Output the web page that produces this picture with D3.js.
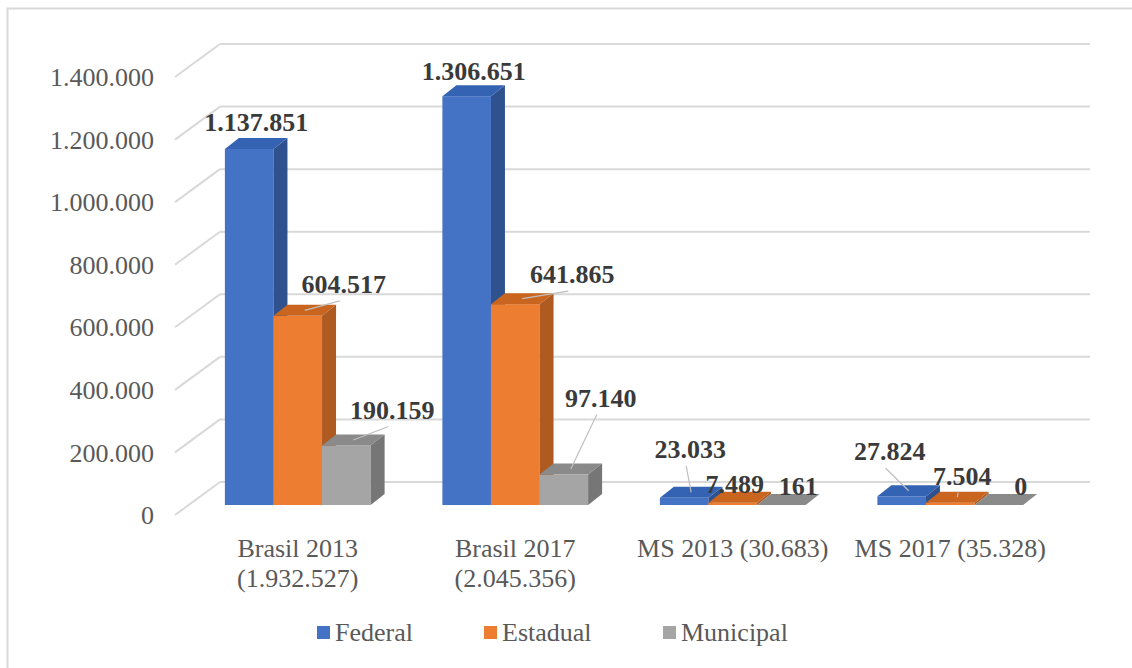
<!DOCTYPE html>
<html>
<head>
<meta charset="utf-8">
<script src="https://cdn.jsdelivr.net/npm/d3@7"></script>
<style>
  body { margin: 0; background: #fff; }
</style>
</head>
<body>
<svg id="chart" width="1132" height="668"></svg>
<script>
// data
var categories = [["Brasil 2013", "(1.932.527)"], ["Brasil 2017", "(2.045.356)"], ["MS 2013 (30.683)"], ["MS 2017 (35.328)"]];
var seriesNames = ["Federal", "Estadual", "Municipal"];
var federal   = [1137851, 1306651, 23033, 27824];
var estadual  = [604517, 641865, 7489, 7504];
var municipal = [190159, 97140, 161, 0];
var yTicks = [0, 200000, 400000, 600000, 800000, 1000000, 1200000, 1400000];

var values = [federal, estadual, municipal];

// layout
var svg = d3.select("#chart"),
    width = +svg.attr("width"),
    height = +svg.attr("height");

var serif = "Tinos, 'Times New Roman', Times, 'Liberation Serif', 'Noto Serif', 'DejaVu Serif', serif";

var wallDx = 45, wallDy = -33;      // depth of the floor / side wall
var barOffX = 14, barOffY = -10;    // where the bars sit in depth
var barDx = 14, barDy = -11;        // depth of each bar

var colors = {
  front: ["#4472C4", "#ED7D31", "#A5A5A5"],
  top:   ["#3563B3", "#C9651F", "#8A8A8A"],
  side:  ["#2F528F", "#AE5A21", "#767676"]
};

var fmt = function(v) { return d3.format(",")(v).replace(/,/g, "."); };

var y = d3.scaleLinear().domain([0, 1400000]).range([515, 77]);
var x0 = d3.scaleBand().domain(d3.range(categories.length)).range([175, 1045]).paddingInner(0.33).paddingOuter(0.165);
var x1 = d3.scaleBand().domain(d3.range(seriesNames.length)).range([0, x0.bandwidth()]);

// frame
svg.append("rect")
  .attr("x", 7.5).attr("y", 8.5)
  .attr("width", 1130).attr("height", 670)
  .attr("fill", "none").attr("stroke", "#d9d9d9").attr("stroke-width", 2);

// gridlines: back wall + left side wall
var grid = svg.append("g").attr("class", "grid");
grid.selectAll("line.back")
  .data(yTicks)
  .enter().append("line")
    .attr("class", "back")
    .attr("x1", 175 + wallDx).attr("x2", 1045 + wallDx)
    .attr("y1", function(d) { return y(d) + wallDy; })
    .attr("y2", function(d) { return y(d) + wallDy; })
    .attr("stroke", "#d9d9d9").attr("stroke-width", 2);
grid.selectAll("line.side")
  .data(yTicks)
  .enter().append("line")
    .attr("class", "side")
    .attr("x1", 175).attr("x2", 175 + wallDx)
    .attr("y1", function(d) { return y(d); })
    .attr("y2", function(d) { return y(d) + wallDy; })
    .attr("stroke", "#d9d9d9").attr("stroke-width", 2);

// y axis labels
svg.append("g").selectAll("text")
  .data(yTicks)
  .enter().append("text")
    .attr("x", 154)
    .attr("y", function(d) { return y(d); })
    .attr("dy", "0.35em")
    .attr("text-anchor", "end")
    .attr("fill", "#595959")
    .style("font-family", serif)
    .style("font-size", "26px")
    .text(fmt);

// bars
var bars = [];
categories.forEach(function(c, ci) {
  seriesNames.forEach(function(s, si) {
    var xl = x0(ci) + x1(si) + barOffX;
    bars.push({
      ci: ci, si: si, value: values[si][ci],
      xl: xl, xr: xl + x1.bandwidth(),
      yt: y(values[si][ci]) + barOffY,
      yb: y(0) + barOffY
    });
  });
});

var barG = svg.append("g").attr("class", "bars");
bars.forEach(function(b) {
  var g = barG.append("g");
  g.append("rect")
    .attr("x", b.xl).attr("y", b.yt)
    .attr("width", b.xr - b.xl).attr("height", Math.max(0, b.yb - b.yt))
    .attr("fill", colors.front[b.si]);
  g.append("polygon")
    .attr("points", [[b.xl, b.yt], [b.xr, b.yt], [b.xr + barDx, b.yt + barDy], [b.xl + barDx, b.yt + barDy]].join(" "))
    .attr("fill", colors.top[b.si]);
  g.append("polygon")
    .attr("points", [[b.xr, b.yt], [b.xr + barDx, b.yt + barDy], [b.xr + barDx, b.yb + barDy], [b.xr, b.yb]].join(" "))
    .attr("fill", colors.side[b.si]);
});

// data labels: nudge from the top of each bar, [dx, dy, leader]
var labelNudge = [
  [[0, -7, 0], [39, -12, 1], [39, -16, 1]],
  [[0, -5, 0], [50, -10, 1], [30, -57, 1]],
  [[-1, -29, 1], [-5, 1, 0], [10, 1, 0]],
  [[-19, -25, 1], [5, -7, 1], [15, 1, 0]]
];

var labG = svg.append("g").attr("class", "labels");
bars.forEach(function(b) {
  var n = labelNudge[b.ci][b.si];
  var cx = (b.xl + b.xr) / 2;
  var lx = cx + barDx / 2 + n[0];
  var ly = b.yt + barDy + n[1];
  if (n[2]) {
    labG.append("line")
      .attr("x1", lx - 4).attr("y1", ly + 8)
      .attr("x2", cx + barDx / 2).attr("y2", b.yt + barDy / 2)
      .attr("stroke", "#bfbfbf").attr("stroke-width", 1.2);
  }
  labG.append("text")
    .attr("x", lx).attr("y", ly)
    .attr("text-anchor", "middle")
    .attr("fill", "#3a3a3a")
    .style("font-family", serif)
    .style("font-size", "26px")
    .style("font-weight", "bold")
    .text(fmt(b.value));
});

// category labels
svg.append("g").selectAll("text")
  .data(categories)
  .enter().append("text")
    .attr("x", function(d, i) { return x0(i) + x0.bandwidth() / 2 + barOffX; })
    .attr("y", 557)
    .attr("text-anchor", "middle")
    .attr("fill", "#595959")
    .style("font-family", serif)
    .style("font-size", "26px")
    .each(function(d) {
      var t = d3.select(this);
      d.forEach(function(line, k) {
        t.append("tspan")
          .attr("x", t.attr("x"))
          .attr("dy", k === 0 ? 0 : 30)
          .text(line);
      });
    });

// legend
var legendX = [317, 484, 663];
var legend = svg.append("g").attr("class", "legend");
seriesNames.forEach(function(s, i) {
  legend.append("rect")
    .attr("x", legendX[i]).attr("y", 626)
    .attr("width", 13).attr("height", 13)
    .attr("fill", colors.front[i]);
  legend.append("text")
    .attr("x", legendX[i] + 18).attr("y", 632)
    .attr("dy", "0.35em")
    .attr("fill", "#595959")
    .style("font-family", serif)
    .style("font-size", "26px")
    .text(s);
});
</script>
</body>
</html>
